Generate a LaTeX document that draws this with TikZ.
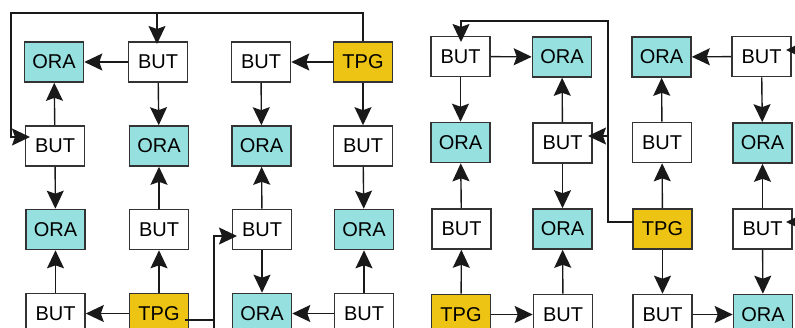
\documentclass[tikz,border=0pt]{standalone}
\usepackage{fontspec}
\setmainfont{Liberation Sans}
\usetikzlibrary{arrows.meta}
\definecolor{oracol}{HTML}{96E0DF}
\definecolor{tpgcol}{HTML}{EDC414}
\definecolor{edgecol}{HTML}{333333}
\tikzset{
 box/.style={draw=edgecol, line width=1.6pt, minimum width=59pt, minimum height=40pt, inner sep=0pt, font=\fontsize{20}{20}\selectfont},
 ora/.style={box, fill=oracol},
 but/.style={box, fill=white},
 tpg/.style={box, fill=tpgcol},
 conn/.style={line width=1.4pt, draw=black!90},
 arr/.style={conn, -{Stealth[length=18pt,width=17pt,inset=3pt]}},
}
\begin{document}
\begin{tikzpicture}[x=1pt,y=-1pt]
\useasboundingbox (0,0) rectangle (795,327);
\clip (0,0) rectangle (795,327);
% left panel
\node[ora] (a11) at (54,62) {ORA};
\node[but] (a12) at (158,62) {BUT};
\node[but] (a13) at (261,62) {BUT};
\node[tpg] (a14) at (363,62) {TPG};
\node[but] (a21) at (55,146) {BUT};
\node[ora] (a22) at (159,146) {ORA};
\node[ora] (a23) at (261.5,146) {ORA};
\node[but] (a24) at (363,146) {BUT};
\node[ora] (a31) at (55.5,229.5) {ORA};
\node[but] (a32) at (159,229.5) {BUT};
\node[but] (a33) at (262,229.5) {BUT};
\node[ora] (a34) at (364,229.5) {ORA};
\node[but] (a41) at (55.5,313.5) {BUT};
\node[tpg] (a42) at (159,313.5) {TPG};
\node[ora] (a43) at (262,313.5) {ORA};
\node[but] (a44) at (364,313.5) {BUT};
% right panel
\node[but] (b11) at (460.5,56.5) {BUT};
\node[ora] (b12) at (562,57) {ORA};
\node[ora] (b13) at (661.5,57) {ORA};
\node[but] (b14) at (761.5,56.5) {BUT};
\node[ora] (b21) at (460.5,142.5) {ORA};
\node[but] (b22) at (562.5,143) {BUT};
\node[but] (b23) at (662,142.5) {BUT};
\node[ora] (b24) at (762.5,143) {ORA};
\node[but] (b31) at (461.5,229) {BUT};
\node[ora] (b32) at (562.5,229) {ORA};
\node[tpg] (b33) at (662.5,229) {TPG};
\node[but] (b34) at (762.5,229) {BUT};
\node[tpg] (b41) at (461,314.5) {TPG};
\node[but] (b42) at (563,314.5) {BUT};
\node[but] (b43) at (662.5,314.5) {BUT};
\node[ora] (b44) at (763,314.5) {ORA};
% coordinates for loops
\coordinate (ltop) at (11,13);
\coordinate (a21in) at (30,137);
\coordinate (lbr) at (157,13);
\coordinate (a12in) at (157,44);
\coordinate (lv) at (214,340);
\coordinate (a33in) at (237,236);
\coordinate (a42out) at (185,320);
\coordinate (ljoin) at (214,320);
\coordinate (b33out) at (633,222);
\coordinate (rtop) at (608,21);
\coordinate (b11in) at (461,42);
\coordinate (rbr) at (608,136);
\coordinate (b22in) at (588,136);
\coordinate (re1) at (810,50);
\coordinate (b14in) at (786,50);
\coordinate (re3) at (810,222);
\coordinate (b34in) at (786,222);
% left edges
\draw[arr] (a12) -- (a11);
\draw[arr] (a14) -- (a13);
\draw[arr] (a12) -- (a22);
\draw[arr] (a13) -- (a23);
\draw[arr] (a14) -- (a24);
\draw[arr] (a21) -- (a11);
\draw[arr] (a21) -- (a31);
\draw[arr] (a32) -- (a22);
\draw[arr] (a33) -- (a23);
\draw[arr] (a24) -- (a34);
\draw[arr] (a41) -- (a31);
\draw[arr] (a42) -- (a32);
\draw[arr] (a33) -- (a43);
\draw[arr] (a44) -- (a34);
\draw[arr] (a42) -- (a41);
\draw[arr] (a44) -- (a43);
\draw[arr] (a14.north) |- (ltop) |- (a21in);
\draw[arr] (lbr) -- (a12in);
\draw[arr] (lv) |- (a33in);
\draw[conn] (a42out) -- (ljoin);
% right edges
\draw[arr] (b11) -- (b12);
\draw[arr] (b14) -- (b13);
\draw[arr] (b11) -- (b21);
\draw[arr] (b22) -- (b12);
\draw[arr] (b23) -- (b13);
\draw[arr] (b14) -- (b24);
\draw[arr] (b31) -- (b21);
\draw[arr] (b22) -- (b32);
\draw[arr] (b33) -- (b23);
\draw[arr] (b34) -- (b24);
\draw[arr] (b41) -- (b31);
\draw[arr] (b42) -- (b32);
\draw[arr] (b33) -- (b43);
\draw[arr] (b34) -- (b44);
\draw[arr] (b41) -- (b42);
\draw[arr] (b43) -- (b44);
\draw[arr] (b33out) -| (rtop) -| (b11in);
\draw[arr] (rbr) -- (b22in);
\draw[arr] (re1) -- (b14in);
\draw[arr] (re3) -- (b34in);
\end{tikzpicture}
\end{document}
